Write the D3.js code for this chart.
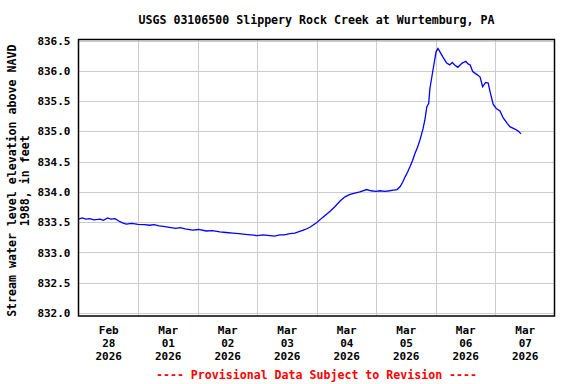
<!DOCTYPE html>
<html>
<head>
<meta charset="utf-8">
<script src="https://cdn.jsdelivr.net/npm/d3@7"></script>
<style>
  body { margin: 0; background: #fff; }
  text { font-family: "DejaVu Sans Mono", "Liberation Mono", monospace; font-weight: bold; }
</style>
</head>
<body>
<div id="chart"></div>
<script>
// gage readings
const times = [
  "02-28 00:00", "02-28 01:30", "02-28 03:00", "02-28 04:30", "02-28 06:15", "02-28 08:45", "02-28 10:00",
  "02-28 11:45", "02-28 13:00", "02-28 14:45", "02-28 16:15", "02-28 17:45", "02-28 19:15", "02-28 21:30",
  "03-01 00:00", "03-01 02:30", "03-01 04:45", "03-01 06:30", "03-01 08:30", "03-01 10:15", "03-01 12:00",
  "03-01 15:15", "03-01 17:00", "03-01 19:00", "03-01 22:00", "03-02 00:30", "03-02 03:30", "03-02 06:00",
  "03-02 09:00", "03-02 11:30", "03-02 14:15", "03-02 16:45", "03-02 19:15", "03-02 21:30", "03-03 00:00",
  "03-03 02:30", "03-03 05:15", "03-03 07:00", "03-03 09:15", "03-03 11:00", "03-03 13:15", "03-03 15:15",
  "03-03 17:15", "03-03 19:30", "03-03 21:30", "03-04 00:00", "03-04 02:30", "03-04 05:30", "03-04 07:30",
  "03-04 09:30", "03-04 11:30", "03-04 13:30", "03-04 15:30", "03-04 17:30", "03-04 20:15", "03-04 22:00",
  "03-05 00:00", "03-05 01:45", "03-05 03:30", "03-05 05:30", "03-05 07:00", "03-05 08:30", "03-05 09:45",
  "03-05 10:45", "03-05 11:45", "03-05 12:45", "03-05 13:45", "03-05 14:45", "03-05 15:45", "03-05 16:45",
  "03-05 17:45", "03-05 19:00", "03-05 19:45", "03-05 20:30", "03-05 21:15", "03-05 21:45", "03-05 23:00",
  "03-06 00:15", "03-06 01:00", "03-06 01:45", "03-06 03:00", "03-06 04:30", "03-06 05:45", "03-06 06:45",
  "03-06 07:45", "03-06 09:00", "03-06 10:45", "03-06 12:15", "03-06 13:00", "03-06 14:00", "03-06 15:00",
  "03-06 16:45", "03-06 18:00", "03-06 19:00", "03-06 20:15", "03-06 21:15", "03-06 22:00", "03-06 23:15",
  "03-07 00:30", "03-07 02:00", "03-07 03:15", "03-07 05:00", "03-07 06:00", "03-07 08:00", "03-07 09:15",
  "03-07 10:30"
];
const stage = [
  833.55, 833.57, 833.55, 833.56, 833.54, 833.55, 833.53,
  833.57, 833.55, 833.56, 833.52, 833.49, 833.47, 833.48,
  833.465, 833.46, 833.45, 833.46, 833.44, 833.43, 833.42,
  833.40, 833.41, 833.39, 833.37, 833.38, 833.355, 833.36,
  833.34, 833.33, 833.32, 833.31, 833.30, 833.29, 833.28,
  833.29, 833.28, 833.27, 833.29, 833.29, 833.31, 833.32,
  833.35, 833.38, 833.42, 833.49, 833.58, 833.68, 833.76,
  833.85, 833.92, 833.96, 833.98, 834.00, 834.04, 834.02,
  834.01, 834.02, 834.01, 834.02, 834.03, 834.04, 834.09,
  834.16, 834.25, 834.33, 834.42, 834.52, 834.64, 834.74,
  834.86, 835.05, 835.20, 835.41, 835.46, 835.71, 836.02,
  836.32, 836.37, 836.32, 836.23, 836.13, 836.10, 836.14,
  836.10, 836.06, 836.13, 836.16, 836.12, 836.10, 835.99,
  835.94, 835.90, 835.74, 835.81, 835.80, 835.66, 835.45,
  835.38, 835.34, 835.23, 835.13, 835.08, 835.04, 835.01,
  834.96
];

const dayTicks = ["2026-02-28", "2026-03-01", "2026-03-02", "2026-03-03", "2026-03-04", "2026-03-05", "2026-03-06", "2026-03-07"];
const yTicks = [832.0, 832.5, 833.0, 833.5, 834.0, 834.5, 835.0, 835.5, 836.0, 836.5];

const title = "USGS 03106500 Slippery Rock Creek at Wurtemburg, PA";
const yLabel = ["Stream water level elevation above NAVD", "1988, in feet"];
const footer = "---- Provisional Data Subject to Revision ----";

const parseT = d3.timeParse("%Y-%m-%d %H:%M");
const parseD = d3.timeParse("%Y-%m-%d");
const data = times.map((t, i) => ({ t: parseT("2026-" + t), v: stage[i] }));

const width = 576, height = 384;
const margin = { left: 78.5, right: 554.5, top: 39.5, bottom: 316 };

const svg = d3.select("#chart").append("svg")
  .attr("width", width)
  .attr("height", height);

const x = d3.scaleTime()
  .domain([parseD("2026-02-28"), parseD("2026-03-08")])
  .range([margin.left, margin.right]);

const y = d3.scaleLinear()
  .domain([831.95, 836.52])
  .range([margin.bottom, margin.top]);

// grid
svg.append("g")
  .selectAll("line")
  .data(yTicks)
  .join("line")
  .attr("x1", margin.left).attr("x2", margin.right)
  .attr("y1", d => Math.round(y(d)) + 0.5)
  .attr("y2", d => Math.round(y(d)) + 0.5)
  .attr("stroke", "#cccccc");

svg.append("g")
  .selectAll("line")
  .data(dayTicks.slice(1))
  .join("line")
  .attr("x1", d => Math.round(x(parseD(d))) + 0.5)
  .attr("x2", d => Math.round(x(parseD(d))) + 0.5)
  .attr("y1", margin.top).attr("y2", margin.bottom)
  .attr("stroke", "#cccccc");

// y axis labels
const yAxis = svg.append("g")
  .attr("transform", "translate(" + margin.left + ",0)")
  .call(d3.axisLeft(y).tickValues(yTicks).tickSize(0).tickPadding(8).tickFormat(d3.format(".1f")));
yAxis.select(".domain").remove();
yAxis.selectAll("text")
  .style("font-size", "11px")
  .style("font-family", "'DejaVu Sans Mono', monospace")
  .style("font-weight", "bold")
  .attr("fill", "#000");

// x axis labels, centred on each day
const xAxis = svg.append("g")
  .attr("transform", "translate(0," + margin.bottom + ")")
  .call(d3.axisBottom(x)
    .tickValues(dayTicks.map(d => d3.timeHour.offset(parseD(d), 12)))
    .tickSize(0)
    .tickFormat(""));
xAxis.select(".domain").remove();
xAxis.selectAll(".tick").each(function (d) {
  const t = d3.select(this).append("text")
    .attr("fill", "#000")
    .attr("text-anchor", "middle")
    .style("font-size", "11px")
    .style("font-family", "'DejaVu Sans Mono', monospace")
    .style("font-weight", "bold");
  [d3.timeFormat("%b")(d), d3.timeFormat("%d")(d), d3.timeFormat("%Y")(d)].forEach((s, i) => {
    t.append("tspan").attr("x", 0).attr("y", 18 + i * 13).text(s);
  });
});

// the series
svg.append("path")
  .datum(data)
  .attr("fill", "none")
  .attr("stroke", "#0000ff")
  .attr("stroke-width", 1.3)
  .attr("d", d3.line().x(d => x(d.t)).y(d => y(d.v)));

// frame
svg.append("rect")
  .attr("x", margin.left).attr("y", margin.top)
  .attr("width", margin.right - margin.left).attr("height", margin.bottom - margin.top)
  .attr("fill", "none")
  .attr("stroke", "#000")
  .attr("stroke-width", 1.5);

svg.append("text")
  .attr("x", (margin.left + margin.right) / 2).attr("y", 24)
  .attr("text-anchor", "middle")
  .style("font-size", "11.6px")
  .text(title);

svg.append("g")
  .attr("transform", "translate(0," + ((margin.top + margin.bottom) / 2 + 3) + ") rotate(-90)")
  .selectAll("text")
  .data(yLabel)
  .join("text")
  .attr("x", 0)
  .attr("y", (d, i) => 16 + i * 13)
  .attr("text-anchor", "middle")
  .style("font-size", "11.6px")
  .text(d => d);

svg.append("text")
  .attr("x", (margin.left + margin.right) / 2).attr("y", 379)
  .attr("text-anchor", "middle")
  .attr("fill", "#ff0000")
  .style("font-size", "11.6px")
  .text(footer);
</script>
</body>
</html>
